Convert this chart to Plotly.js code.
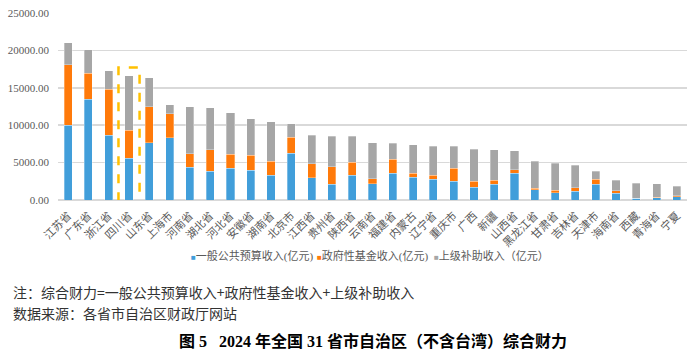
<!DOCTYPE html>
<html>
<head>
<meta charset="utf-8">
<script src="https://cdn.plot.ly/plotly-3.0.1.min.js"></script>
<style>html,body{margin:0;padding:0;background:#fff;}#chart{width:700px;height:354px;}</style>
</head>
<body>
<div id="chart"></div>
<script>
var categories = ["江苏省","广东省","浙江省","四川省","山东省","上海市","河南省","湖北省","河北省","安徽省","湖南省","北京市","江西省","贵州省","陕西省","云南省","福建省","内蒙古","辽宁省","重庆市","广西","新疆","山西省","黑龙江省","甘肃省","吉林省","天津市","海南省","西藏","青海省","宁夏"];
var generalBudget = [10000,13470,8670,5560,7640,8350,4360,3870,4270,4000,3330,6270,2980,2130,3330,2180,3560,3070,2800,2530,1730,2090,3560,1380,980,1160,2090,890,230,300,440];
var govFund = [8100,3460,6130,3770,4800,3160,1820,2880,1860,1960,1830,2130,1860,2310,1690,660,1910,490,530,1740,760,530,480,220,350,480,660,350,30,40,130];
var transfer = [2920,3160,2490,7250,3910,1240,6260,5600,5510,4880,5330,1820,3830,4050,3470,4800,2090,3860,3830,2890,4310,4130,2540,3600,3600,2980,1070,1380,2010,1840,1250];
var seriesNames = ["一般公共预算收入(亿元)","政府性基金收入(亿元)","上级补助收入（亿元）"];
var colors = ["#419EDA","#FF7A0A","#A6A6A6"];
var highlightIndex = 3;

var serif = "Liberation Serif, 'Noto Sans CJK SC', serif";
var sans = "'Noto Sans CJK SC', sans-serif";

var vals = [generalBudget, govFund, transfer];
var traces = vals.map(function(v, i){
  return {type:'bar', x:categories, y:v, name:seriesNames[i],
    marker:{color:colors[i], line:{color:'rgba(255,255,255,0.6)', width:0.5}},
    showlegend:false, hoverinfo:'x+y+name'};
});

var L = 58, R = 687, T = 13, B = 200;
function px(x){ return (x - L)/(R - L); }
function py(y){ return (B - y)/(B - T); }

var legendX = [189, 315, 432];
var annotations = seriesNames.map(function(n, i){
  return {xref:'paper', yref:'paper', x:px(legendX[i]), y:py(256), xanchor:'left', yanchor:'middle',
    showarrow:false, align:'left',
    text:'<span style="color:'+colors[i]+';font-size:8px">■</span>'+n,
    font:{family:serif, size:11, color:'#595959'}};
});
annotations.push({xref:'paper', yref:'paper', x:px(11), y:py(292), xanchor:'left', yanchor:'middle', showarrow:false,
  text:'注：综合财力=一般公共预算收入+政府性基金收入+上级补助收入', font:{family:sans, size:14, color:'#333333'}});
annotations.push({xref:'paper', yref:'paper', x:px(11), y:py(313), xanchor:'left', yanchor:'middle', showarrow:false,
  text:'数据来源：各省市自治区财政厅网站', font:{family:sans, size:14, color:'#333333'}});

var layout = {
  width:700, height:354,
  margin:{l:L, r:700-R, t:T, b:354-B},
  paper_bgcolor:'#ffffff', plot_bgcolor:'#ffffff',
  barmode:'stack', bargap:0.6,
  title:{text:'图 5   2024 年全国 31 省市自治区（不含台湾）综合财力', x:373/700, xanchor:'center', y:1-341/354, yanchor:'middle',
    font:{family:"Liberation Serif, 'Noto Sans CJK SC', serif", size:16, color:'#000000', weight:'bold'}},
  xaxis:{type:'category', tickangle:-45, tickfont:{family:serif, size:11, color:'#595959'},
    showgrid:false, showline:false, zeroline:false, ticks:'', ticklabelstandoff:6, automargin:false},
  yaxis:{range:[0,25000], dtick:5000, tickformat:'.2f', tickfont:{family:serif, size:11, color:'#595959'},
    showgrid:true, gridcolor:'#D9D9D9', gridwidth:1.5, zeroline:true, zerolinecolor:'#D9D9D9', zerolinewidth:1.5,
    showline:false, ticks:'', ticklabelstandoff:8, automargin:false},
  shapes:[{type:'rect', xref:'x', yref:'y', x0:highlightIndex-0.52, x1:highlightIndex+0.52, y0:-900, y1:17700,
    line:{color:'#FFC000', width:2.5, dash:'dash'}, fillcolor:'rgba(0,0,0,0)', layer:'above'}],
  annotations:annotations,
  showlegend:false
};

Plotly.newPlot('chart', traces, layout, {displayModeBar:false, staticPlot:true});
</script>
</body>
</html>
